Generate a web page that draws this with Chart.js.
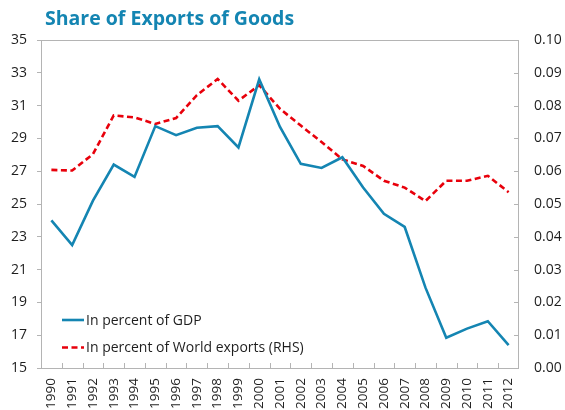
<!DOCTYPE html>
<html>
<head>
<meta charset="utf-8">
<script src="https://cdn.jsdelivr.net/npm/chart.js@4.4.1/dist/chart.umd.min.js"></script>
<style>
html,body{margin:0;padding:0;background:#fff;}
#wrap{width:565px;height:410px;}
</style>
</head>
<body>
<div id="wrap"><canvas id="c" width="565" height="410"></canvas></div>
<script>
const years = ['1990','1991','1992','1993','1994','1995','1996','1997','1998','1999','2000','2001','2002','2003','2004','2005','2006','2007','2008','2009','2010','2011','2012'];
const pctGDP = [24.0, 22.5, 25.2, 27.4, 26.65, 29.75, 29.2, 29.65, 29.75, 28.45, 32.6, 29.7, 27.45, 27.2, 27.85, 26.0, 24.4, 23.6, 19.9, 16.85, 17.4, 17.85, 16.4];
const pctWorld = [0.0604, 0.0602, 0.0652, 0.0770, 0.0764, 0.0744, 0.0762, 0.0832, 0.0881, 0.0815, 0.0862, 0.0790, 0.0739, 0.0689, 0.0636, 0.0616, 0.0571, 0.0550, 0.0509, 0.0571, 0.0571, 0.0586, 0.0536];
const seriesNames = ['In percent of GDP', 'In percent of World exports (RHS)'];
const titleText = 'Share of Exports of Goods';

const BLUE = '#1485b2';
const RED = '#e8000b';
const AXIS = '#b4b4b4';
const TXT = '#1e1e1e';
const FONT = "'Open Sans', sans-serif";

const titleShift = {
  id: 'titleShift',
  beforeDraw(chart) {
    if (chart.titleBlock) {
      const tb = chart.titleBlock;
      const w = tb.right - tb.left;
      tb.left = 45;
      tb.right = 45 + w;
    }
  }
};

const framePlugin = {
  id: 'frame',
  afterDraw(chart) {
    const ctx = chart.ctx, a = chart.chartArea;
    ctx.save();
    ctx.strokeStyle = AXIS;
    ctx.lineWidth = 1;
    ctx.strokeRect(Math.round(a.left) + 0.5, Math.round(a.top) + 0.5, Math.round(a.right - a.left) - 1, Math.round(a.bottom - a.top));
    const y1 = chart.scales.y1;
    ctx.beginPath();
    y1.ticks.forEach(t => {
      const py = Math.round(y1.getPixelForValue(t.value)) + 0.5;
      ctx.moveTo(a.right - 5, py);
      ctx.lineTo(a.right - 0.5, py);
    });
    const x = chart.scales.x;
    const n = years.length;
    for (let i = 1; i < n; i++) {
      const px = Math.round((x.getPixelForValue(i - 1) + x.getPixelForValue(i)) / 2) + 0.5;
      ctx.moveTo(px, a.bottom - 5);
      ctx.lineTo(px, a.bottom);
    }
    ctx.stroke();
    ctx.restore();
  }
};

const legendPlugin = {
  id: 'inLegend',
  afterDatasetsDraw(chart) {
    const ctx = chart.ctx, a = chart.chartArea;
    const rows = [a.bottom - 48, a.bottom - 20.5];
    ctx.save();
    chart.data.datasets.forEach((ds, i) => {
      const y = rows[i];
      ctx.beginPath();
      ctx.strokeStyle = ds.borderColor;
      ctx.lineWidth = ds.borderWidth;
      ctx.setLineDash(ds.borderDash || []);
      ctx.moveTo(a.left + 21, y);
      ctx.lineTo(a.left + 43, y);
      ctx.stroke();
      ctx.setLineDash([]);
      ctx.fillStyle = TXT;
      ctx.font = "14px " + FONT;
      ctx.textBaseline = 'middle';
      ctx.textAlign = 'left';
      ctx.fillText(ds.label, a.left + 45, y + 1);
    });
    ctx.restore();
  }
};

new Chart(document.getElementById('c'), {
  type: 'line',
  data: {
    labels: years,
    datasets: [
      {label: seriesNames[0], data: pctGDP, borderColor: BLUE, backgroundColor: BLUE, borderWidth: 2.6, pointRadius: 0, tension: 0, yAxisID: 'y'},
      {label: seriesNames[1], data: pctWorld, borderColor: RED, backgroundColor: RED, borderWidth: 2.6, borderDash: [6, 3.5], pointRadius: 0, tension: 0, yAxisID: 'y1'}
    ]
  },
  options: {
    responsive: false,
    animation: false,
    devicePixelRatio: 1,
    layout: {padding: 0},
    plugins: {
      legend: {display: false},
      tooltip: {enabled: false},
      title: {
        display: true, text: titleText, align: 'start', fullSize: false,
        color: BLUE, font: {family: FONT, size: 19.5, weight: 'bold', lineHeight: 1.2},
        padding: {top: 8, bottom: 8.6}
      }
    },
    scales: {
      x: {
        offset: true,
        grid: {display: true, offset: true, drawOnChartArea: false, drawTicks: false},
        border: {display: false},
        ticks: {autoSkip: false, maxRotation: 90, minRotation: 90, padding: 10, color: TXT, font: {family: FONT, size: 13.5}},
        afterFit(s) { s.height = 42; }
      },
      y: {
        position: 'left', min: 15, max: 35,
        grid: {drawOnChartArea: false, drawTicks: true, tickLength: 4, color: AXIS},
        border: {display: false},
        ticks: {stepSize: 2, padding: 10, color: TXT, font: {family: FONT, size: 14}},
        afterFit(s) { s.width = 41; }
      },
      y1: {
        position: 'right', min: 0, max: 0.1,
        grid: {drawOnChartArea: false, drawTicks: false},
        border: {display: false},
        ticks: {stepSize: 0.01, padding: 15, color: TXT, font: {family: FONT, size: 14}, callback: v => Number(v).toFixed(2)},
        afterFit(s) { s.width = 46; }
      }
    }
  },
  plugins: [titleShift, framePlugin, legendPlugin]
});
</script>
</body>
</html>
